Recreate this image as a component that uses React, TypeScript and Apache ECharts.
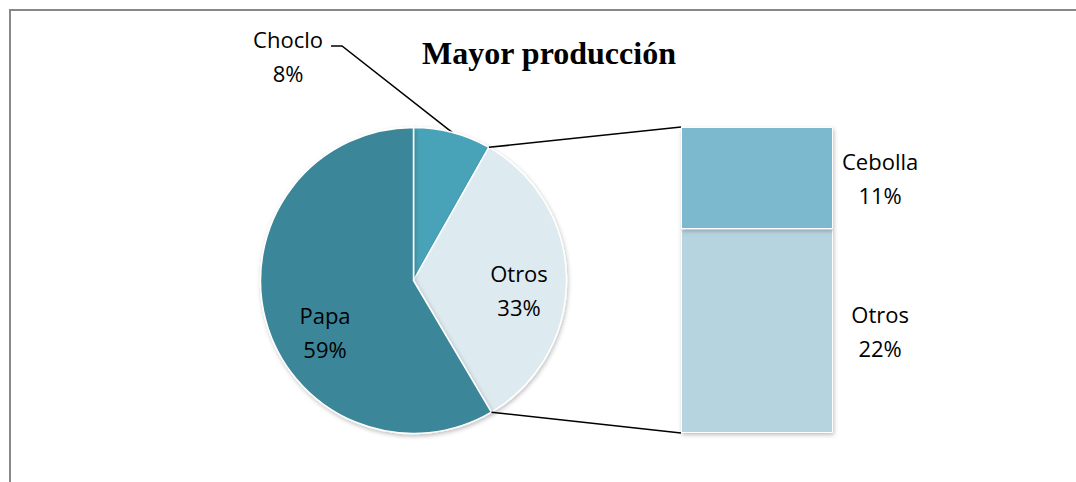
import React, { useEffect, useRef } from "react";
import * as echarts from "echarts";

const titleText = "Mayor producción";
const pieNames = ["Choclo", "Otros", "Papa"];
const pieValues = [8.2, 33.3, 58.5];
const pieColors = ["#4AA3B8", "#DDEAF0", "#3A8799"];
const barNames = ["Otros", "Cebolla"];
const barValues = [22.2, 11.1];
const barColors = ["#B6D4DF", "#7CB9CE"];

const CX = 413.5;
const CY = 280.5;
const R = 153;
const BAR_LEFT = 681;
const BAR_TOP = 127;
const BAR_W = 152;
const BAR_H = 306;
const LABEL_FONT = "'Open Sans', 'Noto Sans', sans-serif";

export default function App() {
  const ref = useRef<HTMLDivElement>(null);
  useEffect(() => {
    if (!ref.current) return;
    const chart = echarts.init(ref.current, null, { renderer: "svg" });
    const total = pieValues.reduce((a, b) => a + b, 0);
    const a1 = (pieValues[0] / total) * 360;
    const a2 = ((pieValues[0] + pieValues[1]) / total) * 360;
    const amid0 = a1 / 2;
    const pt = (deg: number) => {
      const rad = (deg * Math.PI) / 180;
      return [CX + R * Math.sin(rad), CY - R * Math.cos(rad)];
    };
    const p1 = pt(a1);
    const p2 = pt(a2);
    const pm = pt(amid0);
    const insidePos: Record<number, number[]> = { 1: [519, 290], 2: [325, 332] };
    const pct = (v: number, t: number) => `${Math.round((v / t) * 100)}%`;

    const labelStyle = {
      fontFamily: LABEL_FONT,
      fontSize: 22,
      lineHeight: 34,
      color: "#000",
    };

    chart.setOption({
      animation: false,
      title: {
        text: titleText,
        left: 417,
        top: 32,
        textStyle: {
          fontFamily: "'Liberation Serif', 'Times New Roman', serif",
          fontWeight: "bold",
          fontSize: 32,
          color: "#000",
        },
      },
      graphic: [
        {
          type: "rect",
          shape: { x: 10, y: 10, width: 1200, height: 600 },
          style: { fill: "none", stroke: "#888888", lineWidth: 2 },
          silent: true,
          z: 0,
        },
        {
          type: "line",
          shape: { x1: p1[0], y1: p1[1], x2: BAR_LEFT, y2: BAR_TOP },
          style: { stroke: "#000", lineWidth: 1.5 },
          z: 10,
        },
        {
          type: "line",
          shape: { x1: p2[0], y1: p2[1], x2: BAR_LEFT, y2: BAR_TOP + BAR_H },
          style: { stroke: "#000", lineWidth: 1.5 },
          z: 10,
        },
      ],
      grid: { left: BAR_LEFT, top: BAR_TOP, width: BAR_W, height: BAR_H, containLabel: false },
      xAxis: { type: "category", data: ["x"], show: false },
      yAxis: { type: "value", min: 0, max: barValues[0] + barValues[1], show: false },
      series: [
        {
          type: "pie",
          center: [CX, CY],
          radius: R,
          startAngle: 90,
          clockwise: true,
          avoidLabelOverlap: false,
          itemStyle: {
            borderColor: "#fff",
            borderWidth: 1.5,
            shadowBlur: 4,
            shadowColor: "rgba(0,0,0,0.25)",
            shadowOffsetX: 1,
            shadowOffsetY: 2,
          },
          label: {
            ...labelStyle,
            formatter: (p: any) => `${p.name}\n${pct(p.value, total)}`,
            align: "center",
          },
          labelLine: { show: true, lineStyle: { color: "#000", width: 1.5 } },
          labelLayout: (params: any) => {
            if (params.dataIndex === 0) {
              return {
                x: 288,
                y: 56,
                align: "center",
                verticalAlign: "middle",
                labelLinePoints: [
                  [pm[0], pm[1]],
                  [342, 46],
                  [331, 46],
                ],
              };
            }
            const pos = insidePos[params.dataIndex];
            return { x: pos[0], y: pos[1], align: "center", verticalAlign: "middle" };
          },
          data: pieNames.map((n, i) => ({
            name: n,
            value: pieValues[i],
            itemStyle: { color: pieColors[i] },
            label: i === 0 ? { position: "outside" } : { position: "inside" },
            labelLine: { show: i === 0 },
          })),
        },
        ...barNames.map((n, i) => ({
          type: "bar",
          name: n,
          stack: "s",
          barWidth: "100%",
          data: [barValues[i]],
          itemStyle: {
            color: barColors[i],
            borderColor: "#fff",
            borderWidth: 1,
            shadowBlur: 4,
            shadowColor: "rgba(0,0,0,0.25)",
            shadowOffsetX: 1,
            shadowOffsetY: 2,
          },
          label: {
            show: true,
            ...labelStyle,
            position: ["131%", "50%"],
            align: "center",
            verticalAlign: "middle",
            formatter: () => `${n}\n${pct(barValues[i], total)}`,
          },
        })),
      ],
    });
    return () => chart.dispose();
  }, []);
  return (
    <div
      ref={ref}
      style={{ position: "fixed", left: 0, top: 0, width: 1076, height: 482, background: "#fff" }}
    />
  );
}
